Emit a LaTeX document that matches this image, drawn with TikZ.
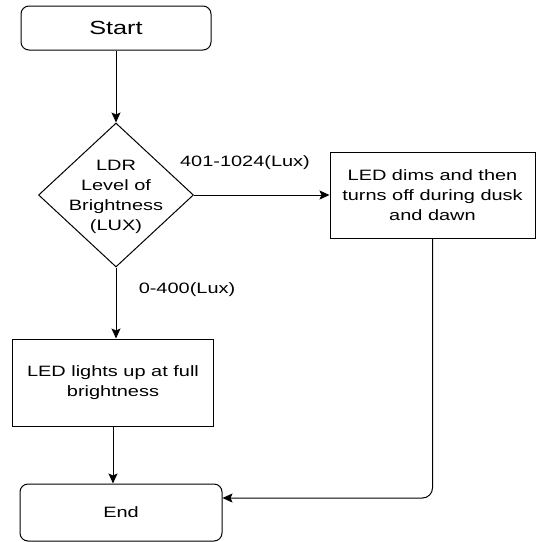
\documentclass[tikz,border=0pt]{standalone}
\usepackage{fontspec}
\setmainfont{Liberation Sans}[FakeStretch=1.33]
\usetikzlibrary{shapes.geometric,arrows.meta,calc}
\begin{document}
\begin{tikzpicture}[x=1pt,y=-1pt,
  every node/.style={font=\fontsize{15}{20}\selectfont, text=black},
  term/.style={draw, rounded corners=8pt, line width=1pt, inner sep=0pt},
  proc/.style={draw, line width=1pt, inner sep=0pt, align=center},
  dia/.style={draw, diamond, line width=1pt, inner sep=0pt, minimum width=155pt, minimum height=144pt},
  lbl/.style={inner sep=0pt},
  conn/.style={line width=1pt, -{Stealth[length=10pt,width=9pt,inset=2pt]}}]
\useasboundingbox (0,0) rectangle (536,542);
\node[term, minimum width=190pt, minimum height=44pt, font=\fontsize{19}{22}\selectfont] (start) at (116,28) {Start};
\node[dia] (d) at (116,195) {};
\node[lbl, align=center] (dtext) at (116,197) {LDR\\Level of\\Brightness\\(LUX)};
\node[proc, minimum width=205pt, minimum height=86pt] (rbox) at (432.5,195) {LED dims and then\\turns off during dusk\\and dawn};
\node[proc, minimum width=201pt, minimum height=87pt] (lbox) at (113,382.5) {LED lights up at full\\brightness};
\node[term, minimum width=202pt, minimum height=57pt] (end) at (121,512.5) {End};
\node[lbl] (l1) at (245,163) {401-1024(Lux)};
\node[lbl] (l2) at (187,290) {0-400(Lux)};
\coordinate (endin) at ([yshift=14.5pt]end.east);
\draw[conn] (start.south) -- (d.north);
\draw[conn] (d.east) -- (rbox.west);
\draw[conn] (d.south) -- (d.south |- lbox.north);
\draw[conn] (lbox.south) -- (lbox.south |- end.north);
\draw[conn, rounded corners=10pt] (rbox.south) |- (endin);
\end{tikzpicture}
\end{document}
